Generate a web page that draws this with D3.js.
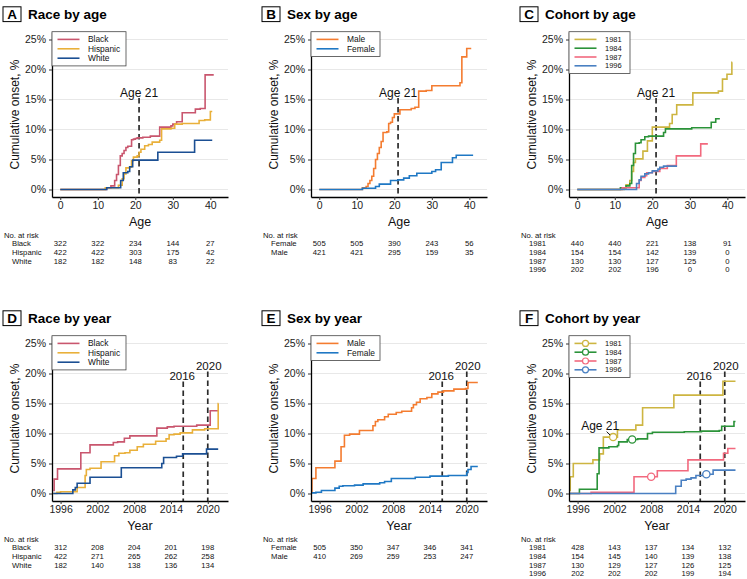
<!DOCTYPE html>
<html><head><meta charset="utf-8">
<script src="https://cdn.jsdelivr.net/npm/d3@7"></script>
<style>
body{margin:0;background:#fff}
svg text{font-family:"Liberation Sans",Arial,Helvetica,sans-serif}
</style>
</head><body>
<svg id="c" width="747" height="579"></svg>
<script>
// ---------- DATA ----------
const ageTicks = [0, 10, 20, 30, 40];
const yearTicks = [1996, 2002, 2008, 2014, 2020];
const pctTicks = [0, 5, 10, 15, 20, 25];

const raceLabels = ["Black", "Hispanic", "White"];
const sexLabels = ["Male", "Female"];
const sexRiskLabels = ["Female", "Male"];
const cohortLabels = ["1981", "1984", "1987", "1996"];

// Panel A: race by age  [age, cumulative %]
const raceAgeBlack = [[0,0],[12.3,0.3],[13.5,0.6],[14.5,1.5],[15,2.5],[15.5,4.0],[16,5.6],[16.5,6.0],[17,6.5],[17.5,7.0],[18,7.2],[19,8.3],[19.5,8.4],[20,8.5],[20.5,8.6],[22,8.7],[24,8.9],[26.5,10.4],[29.5,10.6],[30,10.9],[31,11.3],[32.5,12.8],[36,13.4],[37.3,13.5],[38.6,19.1],[40.9,19.1]];
const raceAgeHispanic = [[0,0],[12,0.3],[15.5,0.7],[16.5,1.8],[17,2.6],[17.5,3.6],[18.5,3.7],[19,4.8],[19.5,5.4],[20.5,5.6],[21,6.2],[21.5,6.7],[22.5,7.3],[23.5,7.5],[24.5,7.9],[26.5,8.2],[27,10.1],[29.5,10.2],[30.5,10.9],[32.5,11.0],[37,11.5],[38.5,11.6],[40,13.0],[40.5,13.0]];
const raceAgeWhite = [[0,0],[12.4,0.3],[16.1,1.5],[16.8,2.8],[18,3.0],[18.5,3.8],[19.3,4.9],[26,6.2],[35.8,8.2],[40.5,8.2]];

// Panel B: sex by age
const sexAgeMale = [[0,0],[11.5,0.3],[12.5,0.5],[13,1.0],[13.5,1.5],[14,2.2],[14.5,3.5],[15,5.0],[15.5,6.0],[16,7.0],[16.5,8.0],[17,9.5],[18,9.6],[18.5,11.0],[19,11.2],[19.5,12.0],[20,12.6],[21.5,13.3],[24.5,13.5],[25.5,13.7],[26.5,16.4],[28.5,16.5],[30,17.3],[37.5,17.8],[38,22.1],[39.3,23.5],[40.5,23.5]];
const sexAgeFemale = [[0,0],[11.5,0.2],[15,0.5],[16,0.9],[19,1.5],[21,1.6],[22.5,1.9],[24,2.3],[26,2.7],[30,3.0],[31,3.3],[32.5,4.5],[35.5,5.3],[36.5,5.7],[41,5.7]];

// Panel C: cohort by age
const cohortAge1981 = [[0,0],[12.5,0.3],[13,0.8],[14,1.5],[14.5,3.0],[15,4.5],[15.5,5.1],[17.5,6.4],[18.7,8.1],[20,10.4],[24.6,11.0],[25.3,12.5],[26.5,14.1],[30.8,16.1],[37.6,16.4],[38.7,18.4],[39.9,19.2],[41.2,21.2],[41.3,21.2]];
const cohortAge1984 = [[0,0],[11.5,0.3],[13,0.6],[14,1.0],[14.5,4.0],[15,6.0],[15.5,7.7],[16.5,7.8],[17,8.3],[18,8.8],[19,8.9],[23,9.5],[23.5,10.1],[30.5,10.3],[35.7,11.2],[36.9,11.8],[38,11.8]];
const cohortAge1987 = [[0,0],[12,0.3],[16.5,1.5],[17,2.0],[18,2.3],[18.5,2.8],[20,3.0],[22,3.5],[24,4.0],[26.4,5.6],[32.9,7.6],[34.8,7.6]];
const cohortAge1996 = [[0,0],[15.8,1.0],[16.5,1.6],[17,2.2],[18,2.6],[19,2.8],[20,3.1],[21.5,3.4],[22,3.7],[23,3.9],[26.6,3.9]];

// Panel D: race by year
const raceYearBlack = [[1994.8,0.5],[1994.95,2.4],[1995.5,4.1],[1999.3,6.8],[2000.8,8.1],[2004.6,8.5],[2005.3,8.6],[2006.4,9.2],[2007.3,9.6],[2011.7,10.9],[2013.4,11.1],[2014.5,11.2],[2018.2,11.4],[2020.4,13.8],[2021.7,13.8]];
const raceYearHispanic = [[1994.8,0],[1995.4,0.2],[1996,0.3],[1998.7,1.0],[2000.0,3.0],[2000.2,4.0],[2000.8,4.2],[2002.6,5.3],[2004.8,6.3],[2005.5,6.7],[2006.5,6.8],[2007.3,7.2],[2008.5,7.8],[2009.5,8.2],[2011.5,8.7],[2013.2,9.1],[2013.7,9.8],[2014.5,9.9],[2015.5,10.1],[2017.5,10.6],[2019.5,10.8],[2021.7,15.0],[2021.75,15.0]];
const raceYearWhite = [[1994.8,0],[1998.0,0.6],[1998.4,1.0],[1998.7,1.7],[2000.8,2.7],[2005.9,4.3],[2012.5,5.0],[2012.8,6.0],[2014.9,6.2],[2015.9,6.6],[2019.8,7.4],[2021.7,7.4]];

// Panel E: sex by year
const sexYearMale = [[1994.6,0.3],[1994.75,2.5],[1995.4,4.3],[1998.5,5.4],[1999.5,7.8],[2000.05,9.7],[2000.9,9.9],[2002.5,10.5],[2004.7,11.3],[2005.1,12.0],[2005.5,12.3],[2006.6,12.8],[2007.2,13.2],[2008.5,13.5],[2009.4,13.7],[2011.0,14.3],[2011.3,14.8],[2011.8,15.2],[2012.4,15.8],[2013.5,16.0],[2014.3,16.6],[2015.3,16.9],[2016.2,17.1],[2017.9,17.4],[2019.8,17.5],[2020.2,18.5],[2021.8,18.5]];
const sexYearFemale = [[1994.6,0.1],[1995.4,0.2],[1996.3,0.5],[1998.5,0.9],[1999.2,1.2],[1999.8,1.3],[2001.7,1.4],[2003.1,1.6],[2005.8,1.8],[2006.6,2.0],[2007.7,2.5],[2011.6,2.7],[2014.0,2.9],[2017.0,3.0],[2020.0,3.5],[2020.2,4.0],[2020.7,4.5],[2021.8,4.5]];

// Panel F: cohort by year
const cohortYear1981 = [[1994.7,0.5],[1994.8,2.8],[1995.3,5.0],[1998.5,5.6],[1999.6,6.6],[2000.2,9.4],[2002.5,10.6],[2005.5,11.4],[2006.6,14.3],[2011.7,16.4],[2019.7,18.7],[2021.75,18.7]];
const cohortYear1984 = [[1994.7,0],[1996.3,0.7],[1999.2,3.3],[1999.5,7.6],[2001.1,7.8],[2002.5,8.0],[2002.7,8.6],[2004.1,9.0],[2005.8,9.1],[2007.4,10.0],[2008.2,10.2],[2013.4,10.3],[2016.2,10.4],[2019.1,10.5],[2019.5,11.2],[2021.5,12.0],[2021.75,12.0]];
const cohortYear1987 = [[1994.7,0],[1998.2,0.2],[2005.2,2.8],[2009.0,3.8],[2014.0,5.6],[2019.8,6.7],[2020.5,7.5],[2021.75,7.5]];
const cohortYear1996 = [[1994.7,0],[2012.0,1.2],[2012.9,2.2],[2013.7,2.4],[2014.5,2.6],[2015.3,3.0],[2016.4,3.2],[2018.1,3.9],[2021.75,3.9]];
// year at which each cohort reaches age 21 (markers)
const cohortAge21Year = [2001.8, 2004.9, 2008.0, 2017.0];

// Reference lines
const ageRef = [21];
const yearRef = [2016, 2020];

// Numbers at risk
const riskRaceAge = [[322,322,234,144,27],[422,422,303,175,42],[182,182,148,83,22]];
const riskSexAge = [[505,505,390,243,56],[421,421,295,159,35]];
const riskCohortAge = [[440,440,221,138,91],[154,154,142,139,0],[130,130,127,125,0],[202,202,196,0,0]];
const riskRaceYear = [[312,208,204,201,198],[422,271,265,262,258],[182,140,138,136,134]];
const riskSexYear = [[505,350,347,346,341],[410,269,259,253,247]];
const riskCohortYear = [[428,143,137,134,132],[154,145,140,139,138],[130,129,127,126,125],[202,202,202,199,194]];

// ---------- STYLES ----------
const raceColors = ["#C9566E", "#E9B03A", "#1B4F93"];
const sexColors = ["#F47C30", "#1F78C4"];
const cohortColors = ["#CDB541", "#2B9339", "#F2697E", "#4A80C2"];

// ---------- DRAW ----------
const svg = d3.select("#c");
const colAx = [52, 311, 569];
const rowOy = [0, 304];
const PW = 176;
const FONT = '"Liberation Sans",Arial,Helvetica,sans-serif';

function stepValue(series, xv) {
  let v = series[0][1];
  for (const p of series) { if (p[0] <= xv) v = p[1]; }
  return v;
}

function drawPanel(cfg) {
  const ax = cfg.ax, oy = cfg.oy;
  const g = svg.append("g");
  const x = d3.scaleLinear().domain(cfg.xdom).range([ax, ax + PW]);
  const y = d3.scaleLinear().domain([-1.25, 26.25]).range([oy + 197, oy + 32]);

  // gridlines
  g.append("g").selectAll("line").data(pctTicks).join("line")
    .attr("x1", ax).attr("x2", ax + PW)
    .attr("y1", d => y(d)).attr("y2", d => y(d))
    .attr("stroke", "#e8e8e8").attr("stroke-width", 1.1);

  // reference lines
  cfg.refs.forEach((r, i) => {
    g.append("line")
      .attr("x1", x(r.v)).attr("x2", x(r.v))
      .attr("y1", oy + r.top).attr("y2", oy + 197)
      .attr("stroke", "#2b2b2b").attr("stroke-width", 1.7)
      .attr("stroke-dasharray", "5.5,3.5");
    g.append("text").attr("x", x(r.v) + r.dx).attr("y", oy + r.lab)
      .attr("text-anchor", "middle").attr("font-size", r.fs).attr("fill", "#111")
      .text(r.text);
  });

  // curves
  const line = d3.line().x(d => x(d[0])).y(d => y(d[1])).curve(d3.curveStepAfter);
  cfg.series.forEach((s, i) => {
    g.append("path").datum(s).attr("d", line)
      .attr("fill", "none").attr("stroke", cfg.colors[i]).attr("stroke-width", 1.6);
  });

  // markers
  if (cfg.markers) {
    cfg.markers.forEach((mx, i) => {
      const s = cfg.series[i];
      g.append("circle").attr("cx", x(mx)).attr("cy", y(stepValue(s, mx))).attr("r", 3.6)
        .attr("fill", "#fff").attr("stroke", cfg.colors[i]).attr("stroke-width", 1.3);
    });
    const cx = x(cfg.markers[0]), cy = y(stepValue(cfg.series[0], cfg.markers[0]));
    g.append("line").attr("x1", cx - 6.5).attr("y1", cy - 5.5).attr("x2", cx - 3).attr("y2", cy - 2)
      .attr("stroke", "#111").attr("stroke-width", 1);
    g.append("text").attr("x", cx - 13).attr("y", cy - 7).attr("text-anchor", "middle")
      .attr("font-size", 12).attr("fill", "#111").text("Age 21");
  }

  // axes
  const xa = g.append("g").attr("transform", `translate(0,${oy + 197})`)
    .call(d3.axisBottom(x).tickValues(cfg.ticks).tickSize(3).tickSizeOuter(0).tickPadding(2).tickFormat(d3.format("d")));
  const ya = g.append("g").attr("transform", `translate(${ax},0)`)
    .call(d3.axisLeft(y).tickValues(pctTicks).tickSize(3).tickSizeOuter(0).tickPadding(3).tickFormat(d => d + "%"));
  [xa, ya].forEach(a => {
    a.attr("font-family", FONT).attr("font-size", 10.5);
    a.select(".domain").attr("stroke", "#000").attr("stroke-width", 1.3);
    a.selectAll(".tick line").attr("stroke", "#333");
    a.selectAll(".tick text").attr("fill", "#222");
  });

  // axis titles
  g.append("text").attr("x", ax + PW / 2).attr("y", oy + 226).attr("text-anchor", "middle")
    .attr("font-size", 12.5).attr("fill", "#111").text(cfg.xTitle);
  g.append("text").attr("transform", `translate(${ax - 33},${oy + 114.5}) rotate(-90)`)
    .attr("text-anchor", "middle").attr("font-size", 12).attr("fill", "#111").text("Cumulative onset, %");

  // legend
  const n = cfg.labels.length;
  const sp = n > 3 ? 8.8 : 9.4;
  const lh = 15.4 + (n - 1) * sp;
  const lg = g.append("g");
  lg.append("rect").attr("x", ax).attr("y", oy + 31.7).attr("width", cfg.legW).attr("height", lh)
    .attr("fill", "#fff").attr("stroke", "#444").attr("stroke-width", 0.8);
  cfg.labels.forEach((lab, i) => {
    const cy = oy + 39.4 + i * sp;
    lg.append("line").attr("x1", ax + 5.5).attr("x2", ax + 27.5).attr("y1", cy).attr("y2", cy)
      .attr("stroke", cfg.colors[i]).attr("stroke-width", 1.6);
    if (cfg.markers) {
      lg.append("circle").attr("cx", ax + 16.5).attr("cy", cy).attr("r", 3)
        .attr("fill", "#fff").attr("stroke", cfg.colors[i]).attr("stroke-width", 1.2);
    }
    lg.append("text").attr("x", ax + 36).attr("y", cy).attr("dy", "0.35em")
      .attr("font-size", cfg.legFont).attr("fill", "#111").text(lab);
  });

  // title
  g.append("rect").attr("x", ax - 49).attr("y", oy + 6.8).attr("width", 18).attr("height", 14.8)
    .attr("fill", "#fff").attr("stroke", "#000").attr("stroke-width", 1);
  g.append("text").attr("x", ax - 40).attr("y", oy + 19).attr("text-anchor", "middle")
    .attr("font-size", 13.5).attr("font-weight", "bold").attr("fill", "#000").text(cfg.letter);
  g.append("text").attr("x", ax - 24).attr("y", oy + 18.6)
    .attr("font-size", 13.5).attr("font-weight", "bold").attr("fill", "#000").text(cfg.title);

  // risk table
  const rs = 8.7;
  const hb = oy + 237.5;
  const rt = g.append("g").attr("font-size", 7.7).attr("fill", "#111");
  rt.append("text").attr("x", ax - 48).attr("y", hb).text("No. at risk");
  cfg.riskLabels.forEach((lab, i) => {
    const by = hb + (i + 1) * rs;
    rt.append("text").attr("x", ax - 40).attr("y", by).text(lab);
    cfg.risk[i].forEach((v, j) => {
      rt.append("text").attr("x", x(cfg.ticks[j])).attr("y", by).attr("text-anchor", "middle").text(v);
    });
  });
}

const ageDom = [-2.2, 44.7];
const yearDom = [1994.6, 2023.3];
const ageRefs = ageRef.map(v => ({v, top: 98, lab: 96.5, dx: 0, fs: 12, text: "Age 21"}));
const yearRefs = yearRef.map((v, i) => ({v, top: i === 0 ? 77.5 : 67.5, lab: i === 0 ? 76.3 : 66, dx: i === 0 ? -1 : 1, fs: 11.5, text: String(v)}));

const panels = [
  {letter: "A", title: "Race by age", ax: colAx[0], oy: rowOy[0], xdom: ageDom, ticks: ageTicks, xTitle: "Age",
   series: [raceAgeBlack, raceAgeHispanic, raceAgeWhite], colors: raceColors, labels: raceLabels, legW: 74, legFont: 8.4,
   refs: ageRefs, risk: riskRaceAge, riskLabels: raceLabels},
  {letter: "B", title: "Sex by age", ax: colAx[1], oy: rowOy[0], xdom: ageDom, ticks: ageTicks, xTitle: "Age",
   series: [sexAgeMale, sexAgeFemale], colors: sexColors, labels: sexLabels, legW: 69, legFont: 8.4,
   refs: ageRefs, risk: riskSexAge, riskLabels: sexRiskLabels},
  {letter: "C", title: "Cohort by age", ax: colAx[2], oy: rowOy[0], xdom: ageDom, ticks: ageTicks, xTitle: "Age",
   series: [cohortAge1981, cohortAge1984, cohortAge1987, cohortAge1996], colors: cohortColors, labels: cohortLabels, legW: 61, legFont: 7.5,
   refs: ageRefs, risk: riskCohortAge, riskLabels: cohortLabels},
  {letter: "D", title: "Race by year", ax: colAx[0], oy: rowOy[1], xdom: yearDom, ticks: yearTicks, xTitle: "Year",
   series: [raceYearBlack, raceYearHispanic, raceYearWhite], colors: raceColors, labels: raceLabels, legW: 74, legFont: 8.4,
   refs: yearRefs, risk: riskRaceYear, riskLabels: raceLabels},
  {letter: "E", title: "Sex by year", ax: colAx[1], oy: rowOy[1], xdom: yearDom, ticks: yearTicks, xTitle: "Year",
   series: [sexYearMale, sexYearFemale], colors: sexColors, labels: sexLabels, legW: 69, legFont: 8.4,
   refs: yearRefs, risk: riskSexYear, riskLabels: sexRiskLabels},
  {letter: "F", title: "Cohort by year", ax: colAx[2], oy: rowOy[1], xdom: yearDom, ticks: yearTicks, xTitle: "Year",
   series: [cohortYear1981, cohortYear1984, cohortYear1987, cohortYear1996], colors: cohortColors, labels: cohortLabels, legW: 61, legFont: 7.5,
   refs: yearRefs, risk: riskCohortYear, riskLabels: cohortLabels, markers: cohortAge21Year}
];
panels.forEach(drawPanel);
</script>
</body></html>
